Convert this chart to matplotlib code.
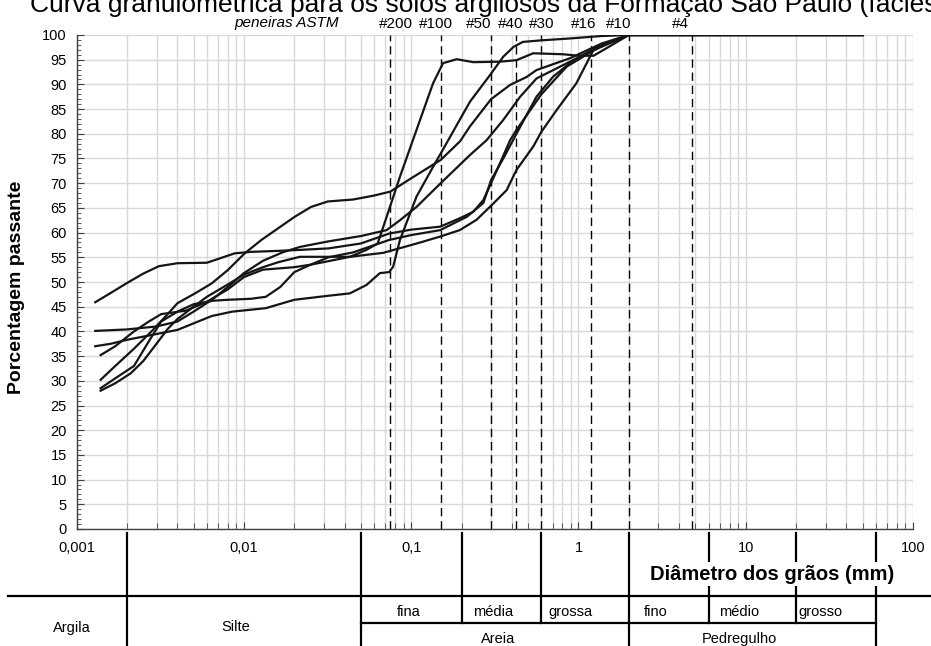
import matplotlib
matplotlib.use("Agg")
import matplotlib.pyplot as plt
import matplotlib.transforms as mtransforms
from matplotlib.lines import Line2D
from matplotlib.ticker import MultipleLocator, LogLocator, NullFormatter

plt.rcParams["font.family"] = ["Liberation Sans", "DejaVu Sans"]

# grain size curves: diameter (mm) / percent passing
c1_d = [0.00129, 0.0016, 0.002, 0.0025, 0.0031, 0.004, 0.006, 0.0072, 0.0088, 0.011, 0.016, 0.0216,
        0.032, 0.05, 0.0737, 0.1, 0.149, 0.195, 0.235, 0.27, 0.3, 0.339, 0.39, 0.426, 0.6, 0.85,
        1.18, 1.5, 2.0, 50]
c1_p = [45.9, 47.8, 49.8, 51.7, 53.2, 53.8, 53.9, 54.8, 55.8, 56.1, 56.3, 56.5,
        56.8, 57.8, 59.8, 60.6, 61.2, 62.9, 64.2, 66.6, 70.0, 74.0, 78.7, 80.8, 88.0, 93.6,
        96.5, 98.5, 100, 100]

c2_d = [0.00129, 0.002, 0.003, 0.004, 0.005, 0.0065, 0.008, 0.01, 0.013, 0.017, 0.0216, 0.0317,
        0.05, 0.0713, 0.0856, 0.1076, 0.149, 0.2245, 0.282, 0.355, 0.448, 0.561, 0.89, 1.38, 2.0, 50]
c2_p = [40.1, 40.4, 41.0, 42.0, 44.0, 46.5, 49.0, 51.8, 54.3, 56.0, 57.1, 58.2,
        59.3, 60.5, 62.5, 65.2, 69.9, 75.7, 78.7, 82.8, 87.5, 91.2, 94.6, 98.0, 100, 100]

c3_d = [0.00129, 0.0016, 0.002, 0.00255, 0.004, 0.0064, 0.0085, 0.0135, 0.02, 0.0317, 0.043,
        0.054, 0.065, 0.0737, 0.078, 0.0856, 0.1076, 0.135, 0.15, 0.2245, 0.296, 0.355, 0.409,
        0.465, 0.59, 0.89, 1.38, 2.0, 50]
c3_p = [37.0, 37.5, 38.3, 39.0, 40.3, 43.1, 44.0, 44.7, 46.4, 47.2, 47.7,
        49.4, 51.8, 52.0, 53.1, 58.5, 67.3, 73.3, 76.0, 86.5, 91.9, 95.6, 97.6,
        98.6, 98.9, 99.3, 99.8, 100, 100]

c4_d = [0.00139, 0.0017, 0.0022, 0.0027, 0.0032, 0.0037, 0.0045, 0.006, 0.008, 0.01, 0.013,
        0.02, 0.025, 0.032, 0.045, 0.0737, 0.1, 0.149, 0.215, 0.27, 0.3, 0.355, 0.448, 0.561,
        0.707, 0.89, 1.12, 1.53, 2.0, 50]
c4_p = [35.2, 37.0, 40.0, 42.0, 43.5, 43.8, 44.2, 46.0, 48.5, 51.0, 52.5,
        53.0, 53.5, 55.0, 56.0, 58.5, 59.5, 60.5, 63.2, 66.0, 70.6, 75.0, 81.4, 87.5,
        91.6, 94.3, 96.3, 98.3, 100, 100]

c5_d = [0.00139, 0.0017, 0.0022, 0.0028, 0.0035, 0.004, 0.0051, 0.0064, 0.008, 0.0101, 0.0127,
        0.0159, 0.0201, 0.0252, 0.0317, 0.045, 0.06, 0.075, 0.1, 0.15, 0.196, 0.2245, 0.3, 0.39,
        0.49, 0.561, 0.89, 1.38, 2.0, 50]
c5_p = [30.2, 33.0, 36.5, 40.0, 43.5, 45.7, 47.7, 49.7, 52.4, 55.8, 58.5,
        60.8, 63.2, 65.2, 66.3, 66.7, 67.5, 68.3, 71.0, 74.7, 78.5, 81.5, 87.0, 89.9,
        91.5, 92.9, 95.3, 98.3, 100, 100]

c6_d = [0.00139, 0.0017, 0.0022, 0.0027, 0.0032, 0.004, 0.005, 0.0065, 0.008, 0.011, 0.0135,
        0.0165, 0.02, 0.025, 0.034, 0.043, 0.054, 0.063, 0.0713, 0.0856, 0.1076, 0.135, 0.155,
        0.187, 0.235, 0.339, 0.426, 0.536, 0.81, 1.0, 1.23, 1.5, 2.0, 50]
c6_p = [28.5, 30.5, 33.0, 38.0, 42.0, 44.0, 45.5, 46.2, 46.4, 46.6, 47.0,
        49.0, 52.0, 53.5, 54.4, 55.1, 56.5, 57.8, 63.2, 71.3, 80.8, 90.2, 94.3,
        95.1, 94.5, 94.6, 94.9, 96.3, 96.1, 95.8, 95.8, 97.5, 100, 100]

c7_d = [0.00139, 0.0017, 0.0021, 0.0025, 0.003, 0.0035, 0.004, 0.005, 0.006, 0.008, 0.01,
        0.013, 0.016, 0.0216, 0.043, 0.068, 0.108, 0.149, 0.195, 0.246, 0.31, 0.372, 0.426,
        0.536, 0.6, 0.74, 0.97, 1.12, 1.23, 1.5, 2.0, 50]
c7_p = [28.0, 29.5, 31.5, 34.0, 37.5, 40.5, 42.5, 45.0, 47.0, 49.5, 51.5,
        53.0, 54.0, 55.1, 55.1, 55.9, 57.8, 59.2, 60.5, 62.6, 65.9, 68.6, 72.7,
        77.4, 80.4, 84.8, 90.2, 94.3, 97.0, 98.5, 100, 100]

curves = [(c1_d, c1_p), (c2_d, c2_p), (c3_d, c3_p), (c4_d, c4_p),
          (c5_d, c5_p), (c6_d, c6_p), (c7_d, c7_p)]

# ASTM sieves
sieve_mm = [0.075, 0.15, 0.3, 0.425, 0.6, 1.18, 2.0, 4.75]
sieve_names = ["#200", "#100", "#50", "#40", "#30", "#16", "#10", "#4"]

x_ticks = [0.001, 0.01, 0.1, 1, 10, 100]
x_tick_labels = ["0,001", "0,01", "0,1", "1", "10", "100"]

# soil classification (ABNT) limits, mm
limits = [0.002, 0.05, 0.2, 0.6, 2.0, 6.0, 20.0, 60.0]

W, H = 931, 646
fig = plt.figure(figsize=(W / 100, H / 100), dpi=100)
ax = fig.add_axes([76.7 / W, (H - 529) / H, (913 - 76.7) / W, (529 - 35) / H])


def ay(py):
    # pixel row -> axes fraction
    return (529 - py) / 494


for d, p in curves:
    ax.plot(d, p, color="#151515", lw=1.6, solid_joinstyle="round", zorder=3)

for s in sieve_mm:
    ax.axvline(s, color="black", lw=1.0, ls=(0, (6, 3.5)), zorder=2)

ax.set_xscale("log")
ax.set_xlim(0.001, 100)
ax.set_ylim(0, 100)
ax.yaxis.set_major_locator(MultipleLocator(5))
ax.yaxis.set_minor_locator(MultipleLocator(1))
ax.xaxis.set_minor_locator(LogLocator(base=10, subs=range(2, 10), numticks=20))
ax.xaxis.set_minor_formatter(NullFormatter())
ax.set_xticks(x_ticks, labels=x_tick_labels)

ax.grid(True, which="major", color="#d9d9d9", lw=1.0, zorder=0)
ax.grid(True, which="minor", axis="x", color="#d9d9d9", lw=1.0, zorder=0)
ax.set_axisbelow(True)

for side in ("top", "right"):
    ax.spines[side].set_visible(False)
for side in ("left", "bottom"):
    ax.spines[side].set_color("#404040")
    ax.spines[side].set_linewidth(1.0)

ax.tick_params(which="both", direction="in", color="#404040")
ax.tick_params(axis="y", which="major", length=5, labelsize=10.5, pad=7)
ax.tick_params(axis="y", which="minor", length=3)
ax.tick_params(axis="x", which="major", length=5, labelsize=10.5, pad=9)
ax.tick_params(axis="x", which="minor", length=4)

ax.set_ylabel("Porcentagem passante", fontsize=14, fontweight="bold")
ax.yaxis.set_label_coords((25 - 76.7) / 836.3, 0.49)

# title (runs past the right edge, as in the source figure)
fig.text(30 / W, 1 - 12 / H,
         "Curva granulométrica para os solos argilosos da Formação São Paulo (fácies argilosa)",
         fontsize=19, ha="left", va="baseline")

trans = mtransforms.blended_transform_factory(ax.transData, ax.transAxes)

ax.text(0.018, ay(23.5), "peneiras ASTM", transform=trans, fontsize=11, style="italic",
        ha="center", va="center")
name_shift = [6, -5, -12, -6, 0, -7, -10, -11]
for s, n, dx in zip(sieve_mm, sieve_names, name_shift):
    t = trans + mtransforms.ScaledTranslation(dx / 100, 0, fig.dpi_scale_trans)
    ax.text(s, ay(23.5), n, transform=t, fontsize=11, ha="center", va="center")

# classification table under the axis
segments = {
    0.002: [(533, 646)],
    0.05: [(533, 646)],
    0.2: [(533, 623)],
    0.6: [(533, 623)],
    2.0: [(533, 646)],
    6.0: [(533, 623)],
    20.0: [(533, 623)],
    60.0: [(533, 646)],
}
for x in limits:
    for y0, y1 in segments[x]:
        ax.add_line(Line2D([x, x], [ay(y0), ay(y1)], transform=trans, color="black",
                           lw=1.6, clip_on=False))
fig.add_artist(Line2D([8 / W, 1.0], [1 - 596 / H] * 2, color="black", lw=1.6))
ax.add_line(Line2D([0.05, 60.0], [ay(623)] * 2, transform=trans, color="black",
                   lw=1.6, clip_on=False))

ax.text(14.3, ay(574), "Diâmetro dos grãos (mm)", transform=trans, fontsize=14.5,
        fontweight="bold", ha="center", va="center", zorder=5,
        bbox=dict(facecolor="white", edgecolor="none", pad=2))

row_labels = [
    (0.00094, 628, "Argila", "center"),
    (0.0089, 627, "Silte", "center"),
    (0.097, 612, "fina", "center"),
    (0.31, 612, "média", "center"),
    (0.9, 612, "grossa", "center"),
    (2.9, 612, "fino", "center"),
    (9.1, 612, "médio", "center"),
    (20.5, 612, "grosso", "left"),
    (0.33, 639, "Areia", "center"),
    (9.1, 639, "Pedregulho", "center"),
]
for x, py, txt, ha in row_labels:
    ax.text(x, ay(py), txt, transform=trans, fontsize=10.5, ha=ha, va="center")

fig.savefig("out.png", dpi=100)
plt.close(fig)
